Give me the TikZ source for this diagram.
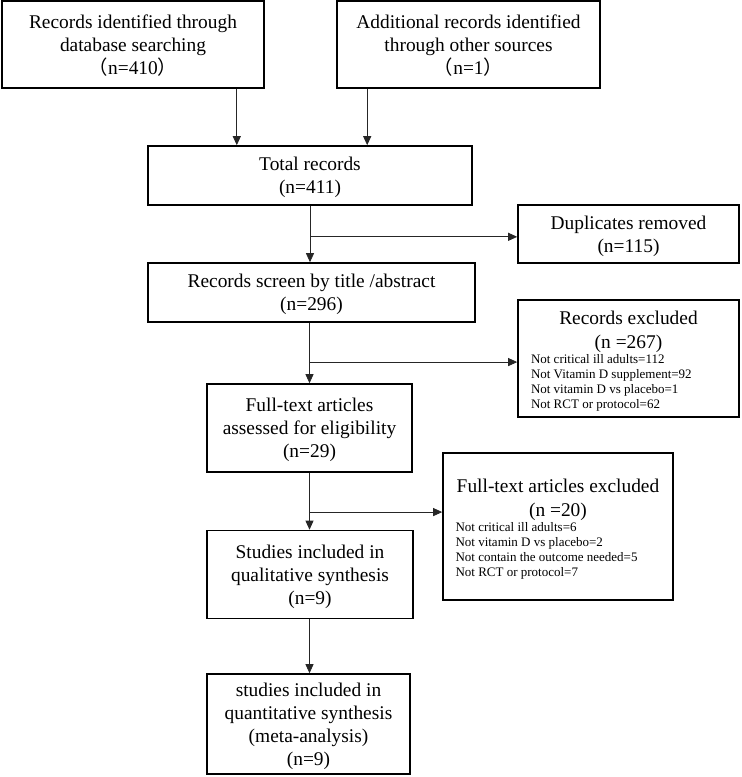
\documentclass[tikz,border=0pt]{standalone}
\usepackage{fontspec}
\setmainfont{Liberation Serif}
\newfontfamily\cjkfont{Noto Sans CJK SC}
\usetikzlibrary{arrows.meta,calc}

\tikzset{
  listbox/.style={draw,line width=1.6pt,inner sep=0pt,align=center,
    font=\fontsize{19.4}{23}\selectfont},
  box/.style={listbox,text depth=0pt},
  arr/.style={line width=0.8pt,draw=black!85,-{Triangle[length=9pt,width=8pt]}},
}
\newcommand{\lpar}{{\cjkfont （}}
\newcommand{\rpar}{{\cjkfont ）}}
\newcommand{\smalllist}{\fontsize{13}{15}\selectfont}

\begin{document}
\begin{tikzpicture}[x=1pt,y=1pt,yscale=-1,xscale=1]
\useasboundingbox (0,0) rectangle (742,777);

% Identification boxes
\node [box,minimum width=262,minimum height=87] (ident) at (133,44.5)
  {Records identified through\\database searching\\\lpar n=410\rpar};
\node [box,minimum width=263,minimum height=87] (other) at (468.5,44.5)
  {Additional records identified\\through other sources\\\lpar n=1\rpar};

% Total
\node [box,minimum width=324,minimum height=59] (total) at (310,175.5)
  {Total records\\(n=411)};
\node [box,minimum width=221,minimum height=58] (dup) at (628.5,234)
  {Duplicates removed\\(n=115)};

% Screening
\node [box,minimum width=327,minimum height=59] (screen) at (311.5,292.5)
  {Records screen by title /abstract\\(n=296)};
\node [listbox,minimum width=221,minimum height=117] (recex) at (628.5,358.5)
  {\begin{minipage}{195pt}\vspace*{5pt}\centering
   Records excluded\\[1pt](n =267)\par\raggedright\smalllist
   Not critical ill adults=112\\
   Not Vitamin D supplement=92\\
   Not vitamin D vs placebo=1\\
   Not RCT or protocol=62
   \end{minipage}};

% Eligibility
\node [box,minimum width=205,minimum height=88] (fta) at (309.5,428)
  {Full-text articles\\assessed for eligibility\\(n=29)};
\node [listbox,minimum width=230,minimum height=147] (ftex) at (558,526.5)
  {\begin{minipage}{205pt}\vspace*{5pt}\centering
   Full-text articles excluded\\[1pt](n =20)\par\raggedright\smalllist
   Not critical ill adults=6\\
   Not vitamin D vs placebo=2\\
   Not contain the outcome needed=5\\
   Not RCT or protocol=7
   \end{minipage}};

% Included
\node [box,minimum width=206,minimum height=88] (qual) at (310,574.5)
  {Studies included in\\qualitative synthesis\\(n=9)};
\node [box,minimum width=203,minimum height=100] (meta) at (308.5,724)
  {studies included in\\quantitative synthesis\\(meta-analysis)\\(n=9)};

% Straight Lines
\draw [arr] ([xshift=-28]ident.south east) -- ([xshift=-28]ident.south east |- total.north);
\draw [arr] ([xshift=31]other.south west) -- ([xshift=31]other.south west |- total.north);

\draw [arr] (total.south) -- (total.south |- screen.north);
\coordinate (j1) at ($(total.south)!0.55!(total.south |- screen.north)$);
\draw [arr] (j1) -- (j1 -| dup.west);

\draw [arr] (screen.south -| fta.north) -- (fta.north);
\coordinate (j2) at ($(screen.south -| fta.north)!0.65!(fta.north)$);
\draw [arr] (j2) -- (j2 -| recex.west);

\draw [arr] (fta.south) -- (fta.south |- qual.north);
\coordinate (j3) at ($(fta.south)!0.69!(fta.south |- qual.north)$);
\draw [arr] (j3) -- (j3 -| ftex.west);

\draw [arr] (qual.south -| fta.south) -- (fta.south |- meta.north);

\end{tikzpicture}
\end{document}
